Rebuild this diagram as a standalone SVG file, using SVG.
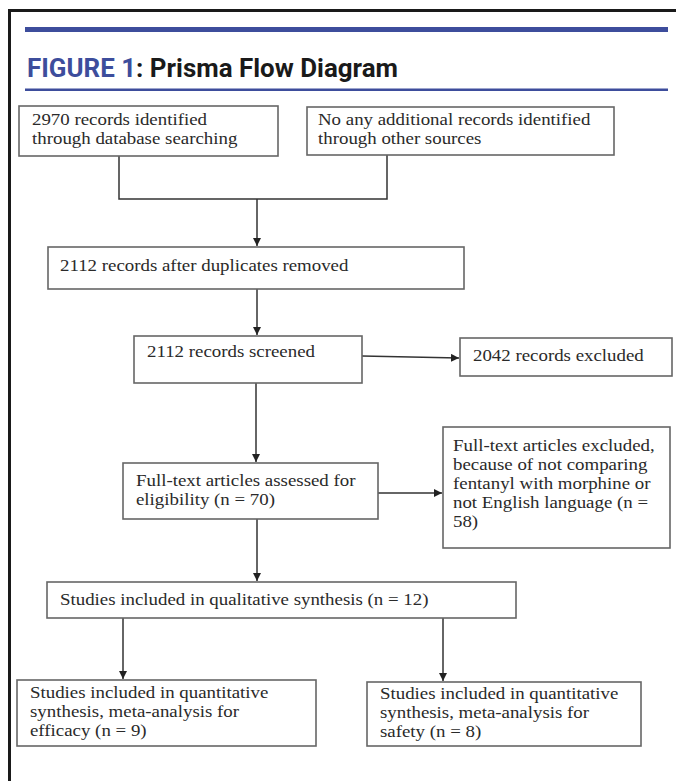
<svg xmlns="http://www.w3.org/2000/svg" width="676" height="781" viewBox="0 0 676 781">
<defs>
<marker id="ah" markerUnits="userSpaceOnUse" markerWidth="9" markerHeight="8" refX="8" refY="4" orient="auto">
<path d="M0,0 L8,4 L0,8 Z" fill="#222"/>
</marker>
<style>
.box{fill:#fff;stroke:#666;stroke-width:1.6}
.t{font-family:"Liberation Serif","Times New Roman",serif;font-size:16px;fill:#2a2a2a}
.c{fill:none;stroke:#333;stroke-width:1.5}
.title{font-family:"Liberation Sans Narrow","Roboto","Open Sans",sans-serif;font-size:26px;font-weight:bold}
</style>
</defs>
<rect width="676" height="781" fill="#fff"/>
<rect x="9.5" y="10.5" width="700" height="800" fill="none" stroke="#1a1a1a" stroke-width="3"/>
<rect x="25" y="27" width="643" height="5" fill="#3d4d9c"/>
<rect x="25" y="88.5" width="643" height="2.5" fill="#3d4d9c"/>
<text class="title" x="27" y="77" textLength="371" lengthAdjust="spacingAndGlyphs"><tspan fill="#3d4d9c">FIGURE 1</tspan><tspan fill="#1a1a1a">: Prisma Flow Diagram</tspan></text>

<g id="connectors">
<polyline class="c" points="119,156 119,199 387,199 387,155"/>
<line class="c" x1="257" y1="199" x2="257" y2="246" marker-end="url(#ah)"/>
<line class="c" x1="257" y1="289" x2="257" y2="335" marker-end="url(#ah)"/>
<line class="c" x1="362" y1="356" x2="459" y2="358" marker-end="url(#ah)"/>
<line class="c" x1="256" y1="383" x2="256" y2="462" marker-end="url(#ah)"/>
<line class="c" x1="378" y1="493" x2="442" y2="493" marker-end="url(#ah)"/>
<line class="c" x1="257" y1="519" x2="257" y2="581" marker-end="url(#ah)"/>
<line class="c" x1="123" y1="618" x2="123" y2="679" marker-end="url(#ah)"/>
<line class="c" x1="443" y1="618" x2="443" y2="681" marker-end="url(#ah)"/>
</g>

<g id="n1">
<rect class="box" x="19" y="106" width="259" height="50"/>
<text class="t" transform="translate(32 0) scale(1.18 1)" y="125">2970 records identified</text>
<text class="t" transform="translate(32 0) scale(1.18 1)" y="144">through database searching</text>
</g>
<g id="n2">
<rect class="box" x="307" y="107" width="307" height="48"/>
<text class="t" transform="translate(318 0) scale(1.18 1)" y="125">No any additional records identified</text>
<text class="t" transform="translate(318 0) scale(1.18 1)" y="144">through other sources</text>
</g>
<g id="n3">
<rect class="box" x="48" y="247" width="416" height="42"/>
<text class="t" transform="translate(60 0) scale(1.18 1)" y="271">2112 records after duplicates removed</text>
</g>
<g id="n4">
<rect class="box" x="134" y="336" width="228" height="47"/>
<text class="t" transform="translate(147 0) scale(1.18 1)" y="357">2112 records screened</text>
</g>
<g id="n5">
<rect class="box" x="460" y="338" width="212" height="38"/>
<text class="t" transform="translate(473 0) scale(1.18 1)" y="361">2042 records excluded</text>
</g>
<g id="n6">
<rect class="box" x="123" y="463" width="255" height="56"/>
<text class="t" transform="translate(136 0) scale(1.18 1)" y="486">Full-text articles assessed for</text>
<text class="t" transform="translate(136 0) scale(1.18 1)" y="505">eligibility (n = 70)</text>
</g>
<g id="n7">
<rect class="box" x="443" y="427" width="227" height="121"/>
<text class="t" transform="translate(453 0) scale(1.18 1)" y="451">Full-text articles excluded,</text>
<text class="t" transform="translate(453 0) scale(1.18 1)" y="470">because of not comparing</text>
<text class="t" transform="translate(453 0) scale(1.18 1)" y="489">fentanyl with morphine or</text>
<text class="t" transform="translate(453 0) scale(1.18 1)" y="508">not English language (n =</text>
<text class="t" transform="translate(453 0) scale(1.18 1)" y="527">58)</text>
</g>
<g id="n8">
<rect class="box" x="47" y="582" width="469" height="36"/>
<text class="t" transform="translate(60 0) scale(1.18 1)" y="605">Studies included in qualitative synthesis (n = 12)</text>
</g>
<g id="n9">
<rect class="box" x="17" y="680" width="299" height="66"/>
<text class="t" transform="translate(30 0) scale(1.18 1)" y="698">Studies included in quantitative</text>
<text class="t" transform="translate(30 0) scale(1.18 1)" y="717">synthesis, meta-analysis  for</text>
<text class="t" transform="translate(30 0) scale(1.18 1)" y="736">efficacy (n = 9)</text>
</g>
<g id="n10">
<rect class="box" x="367" y="682" width="274" height="64"/>
<text class="t" transform="translate(380 0) scale(1.18 1)" y="699">Studies included in quantitative</text>
<text class="t" transform="translate(380 0) scale(1.18 1)" y="718">synthesis, meta-analysis for</text>
<text class="t" transform="translate(380 0) scale(1.18 1)" y="737">safety (n = 8)</text>
</g>
</svg>
